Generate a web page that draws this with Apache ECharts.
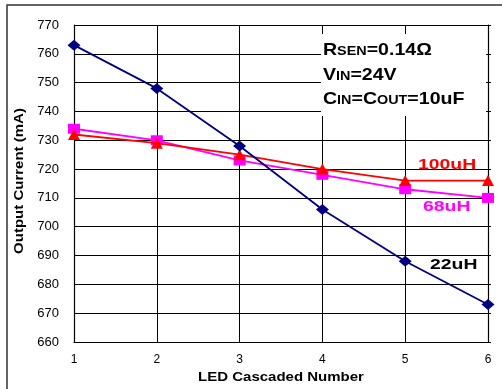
<!DOCTYPE html>
<html><head><meta charset="utf-8">
<script src="https://cdn.jsdelivr.net/npm/echarts@6/dist/echarts.min.js"></script>
<style>html,body{margin:0;padding:0;background:#fff}#c{width:502px;height:389px}</style>
</head><body><div id="c"></div>
<script>
const categories = ['1','2','3','4','5','6'];
const s22uH = [763, 748, 728, 706, 688, 673];
const s68uH = [734, 730, 723, 718, 713, 710];
const s100uH = [732, 729, 725, 720, 716, 716];
const yTicks = {min: 660, max: 770, interval: 10};

const chart = echarts.init(document.getElementById('c'), null, {renderer: 'canvas'});
const F = 'Liberation Sans, Arial, sans-serif';
const bold = (size) => 'bold ' + size + 'px ' + F;
const richBox = {
  b: {fontFamily: F, fontWeight: 'bold', fontSize: 17, fill: '#000'},
  s: {fontFamily: F, fontWeight: 'bold', fontSize: 12.5, fill: '#000', padding: [3, 0, 0, 0]}
};
function t(x, y, text, size, color, sx, extra) {
  return Object.assign({type: 'text', z: 11, silent: true, x: x, y: y, scaleX: sx,
    style: {text: text, font: bold(size), fill: color, verticalAlign: 'middle', align: 'left'}}, extra || {});
}
chart.setOption({
  animation: false,
  backgroundColor: '#fff',
  grid: {left: 74, right: 14, top: 25, bottom: 47},
  xAxis: {
    type: 'category', data: categories, boundaryGap: false,
    axisLine: {lineStyle: {color: '#000', width: 1.2}},
    axisTick: {show: false},
    axisLabel: {fontFamily: F, fontSize: 12, color: '#000', margin: 12},
    splitLine: {show: true, lineStyle: {color: '#000', width: 1}}
  },
  yAxis: [{
    type: 'value', min: yTicks.min, max: yTicks.max, interval: yTicks.interval,
    axisLine: {show: true, lineStyle: {color: '#000', width: 1.2}},
    axisTick: {show: false},
    axisLabel: {fontFamily: F, fontSize: 13, color: '#000', margin: 15},
    splitLine: {show: true, lineStyle: {color: '#000', width: 1}}
  }, {
    type: 'value', min: yTicks.min, max: yTicks.max, interval: yTicks.interval,
    position: 'right',
    axisLine: {show: true, lineStyle: {color: '#000', width: 1.2}},
    axisTick: {show: true, inside: false, length: 3, lineStyle: {color: '#000'}},
    axisLabel: {show: false},
    splitLine: {show: false}
  }],
  series: [
    {name: '68uH', type: 'line', data: s68uH, symbol: 'rect', symbolSize: [12, 10],
     itemStyle: {color: '#FF00FF'}, lineStyle: {color: '#FF00FF', width: 1.8}, z: 3},
    {name: '100uH', type: 'line', data: s100uH, symbol: 'triangle', symbolSize: [12, 11],
     itemStyle: {color: '#FF0000'}, lineStyle: {color: '#FF0000', width: 1.8}, z: 4},
    {name: '22uH', type: 'line', data: s22uH, symbol: 'diamond', symbolSize: [13, 11],
     itemStyle: {color: '#000080'}, lineStyle: {color: '#000080', width: 1.8}, z: 5}
  ],
  graphic: [
    {type: 'polyline', z: 0, silent: true, shape: {points: [[7, 400], [7, 5], [510, 5]]},
     style: {stroke: '#333', lineWidth: 1.5, fill: null}},
    {type: 'rect', z: 10, silent: true, shape: {x: 321, y: 34, width: 165, height: 82},
     style: {fill: '#fff'}},
    {type: 'text', z: 11, silent: true, x: 323, y: 50, scaleX: 1.15,
     style: {text: '{b|R}{s|SEN}{b|=0.14Ω}', rich: richBox, verticalAlign: 'middle'}},
    {type: 'text', z: 11, silent: true, x: 323, y: 75, scaleX: 1.15,
     style: {text: '{b|V}{s|IN}{b|=24V}', rich: richBox, verticalAlign: 'middle'}},
    {type: 'text', z: 11, silent: true, x: 323, y: 99, scaleX: 1.15,
     style: {text: '{b|C}{s|IN}{b|=C}{s|OUT}{b|=10uF}', rich: richBox, verticalAlign: 'middle'}},
    t(418, 165, '100uH', 15.5, '#FF0000', 1.25),
    t(423, 207, '68uH', 15.5, '#FF00FF', 1.25),
    t(430, 265, '22uH', 15.5, '#000000', 1.25),
    t(281, 378, 'LED Cascaded Number', 12.5, '#000', 1.2, {style: {text: 'LED Cascaded Number', font: bold(12.5), fill: '#000', align: 'center', verticalAlign: 'middle'}}),
    {type: 'text', z: 11, silent: true, x: 19.5, y: 181, rotation: Math.PI / 2, scaleX: 1.2,
     style: {text: 'Output Current (mA)', font: bold(12.5), fill: '#000', align: 'center', verticalAlign: 'middle'}}
  ]
});
</script></body></html>
